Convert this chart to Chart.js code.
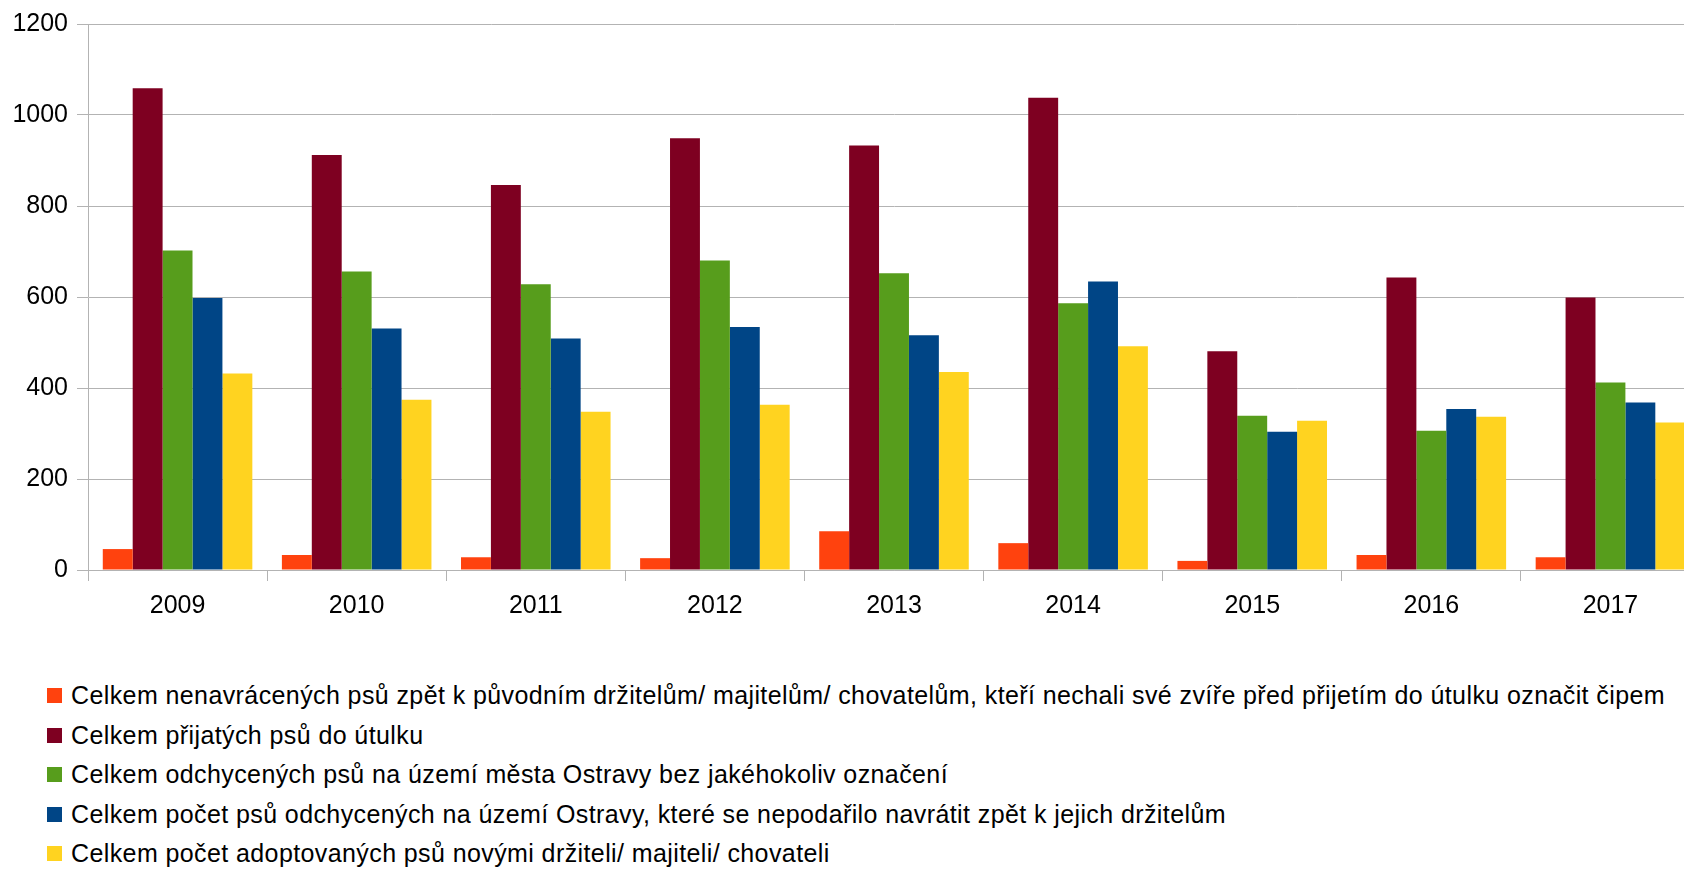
<!DOCTYPE html>
<html>
<head>
<meta charset="utf-8">
<script src="https://cdn.jsdelivr.net/npm/chart.js@4/dist/chart.umd.min.js"></script>
<style>
  html, body { margin: 0; padding: 0; background: #fff; overflow: hidden; width: 1684px; height: 869px; }
  #wrap { position: absolute; left: 0; top: 0; width: 1701px; height: 645px; }
  #legend { position: absolute; left: 47px; top: 676px; margin: 0; padding: 0; list-style: none;
            font-family: "Liberation Sans", Arial, sans-serif; font-size: 25px; letter-spacing: 0.4px;
            color: #000; white-space: nowrap; }
  #legend li { height: 39.5px; line-height: 39.5px; display: flex; align-items: center; }
  #legend span.box { display: inline-block; width: 15px; height: 15px; margin-right: 9px; }
</style>
</head>
<body>
<div id="wrap"><canvas id="myChart"></canvas></div>
<ul id="legend"></ul>
<script>
/* data */
var years = ["2009", "2010", "2011", "2012", "2013", "2014", "2015", "2016", "2017"];
var nenavraceni = [46, 33, 28, 26, 85, 59, 20, 33, 28];
var prijati = [1059, 912, 846, 949, 933, 1038, 481, 643, 599];
var odchyceni = [702, 656, 628, 680, 652, 586, 339, 306, 412];
var nevraceni = [598, 531, 509, 534, 516, 634, 304, 354, 368];
var adoptovani = [432, 374, 348, 363, 435, 492, 328, 337, 324];
var yTicks = [0, 200, 400, 600, 800, 1000, 1200];

var labels = [
  "Celkem nenavrácených psů zpět k původním držitelům/ majitelům/ chovatelům, kteří nechali své zvíře před přijetím do útulku označit čipem",
  "Celkem přijatých psů do útulku",
  "Celkem odchycených psů na území města Ostravy bez jakéhokoliv označení",
  "Celkem počet psů odchycených na území Ostravy, které se nepodařilo navrátit zpět k jejich držitelům",
  "Celkem počet adoptovaných psů novými držiteli/ majiteli/ chovateli"
];
var colors = ["#ff420e", "#7e0021", "#579d1c", "#004586", "#ffd320"];
var series = [nenavraceni, prijati, odchyceni, nevraceni, adoptovani];

var font = { family: "'Liberation Sans', Arial, sans-serif", size: 25 };
var gridColor = "#b3b3b3";

var datasets = series.map(function (s, i) {
  return {
    label: labels[i],
    data: s,
    backgroundColor: colors[i],
    borderWidth: 0,
    barPercentage: 1.0,
    categoryPercentage: 0.835
  };
});

var ctx = document.getElementById('myChart').getContext('2d');
var chart = new Chart(ctx, {
  type: 'bar',
  data: { labels: years, datasets: datasets },
  options: {
    responsive: true,
    maintainAspectRatio: false,
    animation: false,
    layout: { padding: { top: 21, right: 1, left: 0, bottom: 0 } },
    plugins: {
      legend: { display: false },
      tooltip: { enabled: false }
    },
    scales: {
      x: {
        grid: { display: true, drawOnChartArea: false, drawTicks: true, tickLength: 11, offset: true, color: gridColor, lineWidth: 1 },
        border: { display: true, color: gridColor },
        ticks: { color: "#000", font: font, padding: 10, maxRotation: 0 },
        afterFit: function (s) { s.height = 75; }
      },
      y: {
        min: 0,
        max: 1200,
        afterBuildTicks: function (s) { s.ticks = yTicks.map(function (v) { return { value: v }; }); },
        grid: { color: gridColor, lineWidth: 1, tickLength: 11 },
        border: { display: true, color: gridColor },
        ticks: { color: "#000", font: font, padding: 9, callback: function (v) { return String(v); } },
        afterFit: function (s) { s.width = 88; }
      }
    }
  }
});

// legend as a plain list, one entry per row
var ul = document.getElementById('legend');
labels.forEach(function (t, i) {
  var li = document.createElement('li');
  var box = document.createElement('span');
  box.className = 'box';
  box.style.background = colors[i];
  li.appendChild(box);
  li.appendChild(document.createTextNode(t));
  ul.appendChild(li);
});
</script>
</body>
</html>
